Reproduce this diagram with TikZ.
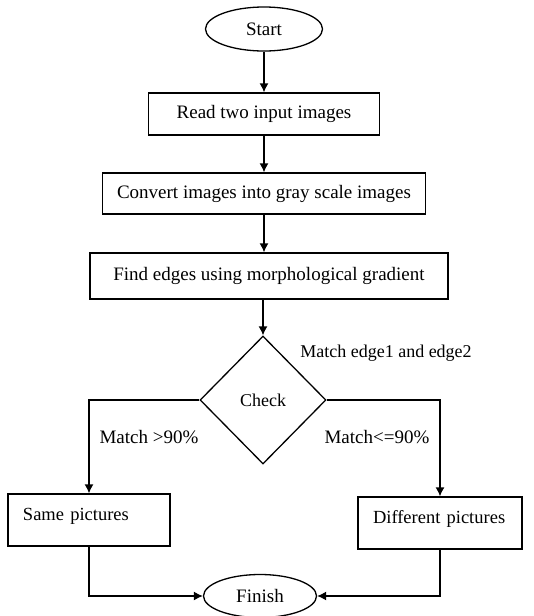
\documentclass[tikz,border=0pt]{standalone}
\usepackage{fontspec}
\setmainfont{Liberation Serif}
\usepackage{tikz}
\usetikzlibrary{arrows.meta,%
                shapes.geometric}

\begin{document}
\begin{tikzpicture}
  [x=1pt,y=-1pt,line width=1.3pt,>={Latex[length=9pt,width=9pt]},
   every node/.style={draw,inner sep=0pt,font=\fontsize{19}{21}\selectfont},
   term/.style={ellipse},
   stepbox/.style={rectangle},
   endbox/.style={rectangle,minimum height=52,align=left,text height=12,text depth=12,
                  font=\fontsize{18.5}{20}\selectfont},
   cond/.style={diamond},
   lbl/.style={draw=none}]
  \useasboundingbox (0,0) rectangle (533,616);
  \node[term,minimum width=117,minimum height=44] (start) at (264,29) {Start};
  \node[stepbox,minimum width=231,minimum height=42] (read) at (264,114) {Read two input images};
  \node[stepbox,minimum width=323,minimum height=41] (convert) at (264,193.5) {Convert images into gray scale images};
  \node[stepbox,minimum width=358,minimum height=46] (find) at (269,276) {Find edges using morphological gradient};
  \node[cond,minimum width=126,minimum height=128,font=\fontsize{18}{20}\selectfont] (check) at (263,400) {Check};
  \node[lbl,font=\fontsize{18}{20}\selectfont] (matchlbl) at (386,353) {Match edge1 and edge2};
  \node[lbl] (yeslbl) at (149,437) {Match >90\%};
  \node[lbl] (nolbl) at (377,437) {Match<=90\%};
  \node[endbox,minimum width=162,text width=132] (same) at (89,520) {\mbox{Same pictures}};
  \node[endbox,minimum width=164,text width=134] (different) at (440,523) {\mbox{Different pictures}};
  \node[term,minimum width=113,minimum height=43] (finish) at (260,596) {Finish};
  % straight arrows
  \foreach \from/\to in {start/read,read/convert}
    \draw[->] (\from) -- (\to);
  \draw[->] (convert) -- (convert |- find.north);
  \draw[->] (find.south -| check) -- (check.north);
  % branches
  \draw[->] (check.west) -| (same.north);
  \draw[->] (check.east) -| (different.north);
  \draw[->] (same.south) |- (finish.west);
  \draw[->] (different.south) |- (finish.east);
\end{tikzpicture}
\end{document}
